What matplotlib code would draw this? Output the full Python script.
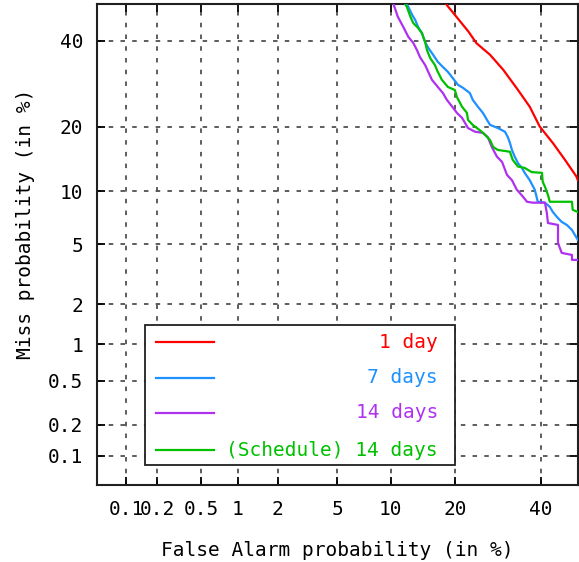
#!/usr/bin/env python3
"""DET curves: miss vs false alarm probability on normal-deviate axes."""

from statistics import NormalDist

import matplotlib
matplotlib.use("Agg")
import matplotlib.pyplot as plt
import numpy as np
from matplotlib.patches import Rectangle


TICKS = [0.1, 0.2, 0.5, 1, 2, 5, 10, 20, 40]
TICK_LABELS = ["0.1", "0.2", "0.5", "1", "2", "5", "10", "20", "40"]
LIMITS = (0.05, 50)

LABELS = ["1 day", "7 days", "14 days", "(Schedule) 14 days"]
COLORS = ["#ff0000", "#1e90ff", "#b030f0", "#00c000"]

# values in percent
DAY1_FA = [18.4, 18.5, 20.3, 22.7, 24.4, 27.4, 30.5, 33.8, 37.1, 39.7, 43.3, 46.5, 49.6, 50.0]
DAY1_MISS = [50.0, 49.7, 46.5, 42.5, 39.4, 36.4, 32.6, 28.2, 24.1, 20.1, 17.0, 14.3, 11.9, 11.4]

DAY7_FA = [12.1, 12.3, 12.85, 13.3, 13.7, 14.3, 14.8, 15.3, 16.1, 16.9, 17.8, 18.7, 19.6,
           20.6, 21.6, 23.0, 23.6, 24.7, 25.8, 26.7, 27.4, 29.2, 30.9, 31.6, 32.1, 32.6,
           33.3, 34.1, 35.1, 35.8, 37.1, 38.4, 39.2, 41.1, 42.4, 43.2, 44.3, 45.6, 47.0,
           48.4, 49.2, 50.0]
DAY7_MISS = [50.0, 49.2, 47.0, 45.6, 43.8, 42.1, 39.7, 38.2, 36.4, 34.6, 33.3, 32.1, 30.6,
             29.0, 28.3, 27.1, 25.6, 24.1, 22.8, 21.4, 20.4, 19.8, 19.1, 18.1, 17.1, 15.9,
             14.8, 13.8, 13.1, 12.4, 11.4, 10.2, 8.8, 8.7, 8.25, 7.74, 7.26, 6.8, 6.53,
             6.1, 5.7, 5.33]

DAY14_FA = [10.35, 10.9, 11.6, 12.3, 13.0, 13.55, 14.0, 14.8, 15.3, 15.9, 16.9, 17.8, 18.5,
            19.5, 20.4, 21.4, 22.0, 22.6, 24.1, 25.8, 26.9, 27.8, 29.0, 30.2, 31.4, 32.6,
            33.8, 35.4, 36.4, 37.9, 41.1, 41.6, 41.9, 44.6, 44.6, 45.6, 48.4, 48.4, 50.0]
DAY14_MISS = [50.0, 46.5, 43.8, 41.1, 39.5, 37.6, 35.8, 33.8, 32.1, 30.2, 28.5, 27.1, 25.6,
              24.1, 22.8, 21.8, 20.8, 19.8, 19.1, 18.9, 18.1, 16.4, 14.8, 14.0, 12.1, 11.4,
              10.2, 9.35, 8.8, 8.7, 8.7, 7.64, 6.7, 6.53, 5.1, 4.43, 4.3, 4.0, 4.0]

SCHED14_FA = [11.86, 12.1, 12.6, 13.0, 13.7, 14.3, 14.8, 15.1, 15.6, 16.4, 16.9, 17.6, 18.7,
              20.0, 20.4, 21.4, 22.4, 22.6, 23.6, 25.1, 25.8, 27.4, 28.1, 29.2, 32.1, 32.8,
              34.1, 35.8, 37.6, 40.3, 40.5, 41.1, 41.9, 42.4, 48.4, 48.6, 50.0]
SCHED14_MISS = [50.0, 49.2, 46.5, 44.8, 43.5, 42.1, 39.7, 37.6, 35.6, 33.8, 32.1, 30.2, 28.5,
                27.8, 26.2, 24.1, 22.8, 21.4, 20.4, 19.4, 18.9, 17.6, 16.4, 15.9, 15.6, 14.3,
                13.3, 13.1, 12.5, 12.4, 11.2, 10.55, 9.57, 8.8, 8.8, 7.95, 7.74]

SERIES = [
    (DAY1_FA, DAY1_MISS),
    (DAY7_FA, DAY7_MISS),
    (DAY14_FA, DAY14_MISS),
    (SCHED14_FA, SCHED14_MISS),
]

_ND = NormalDist()
_ppf = np.vectorize(_ND.inv_cdf, otypes=[float])
_cdf = np.vectorize(_ND.cdf, otypes=[float])


def to_dev(p):
    p = np.clip(np.asarray(p, dtype=float) / 100.0, 1e-9, 1 - 1e-9)
    return _ppf(p)


def from_dev(z):
    return _cdf(np.asarray(z, dtype=float)) * 100.0


def main() -> None:
    fs = 14
    plt.rcParams.update({"font.family": "DejaVu Sans Mono", "font.size": fs})

    fig = plt.figure(figsize=(5.79, 5.62), dpi=100)
    ax = fig.add_axes([0.1675, 0.137, 0.8305, 0.856])

    ax.set_xscale("function", functions=(to_dev, from_dev))
    ax.set_yscale("function", functions=(to_dev, from_dev))

    for (fa, miss), color in zip(SERIES, COLORS):
        ax.plot(fa, miss, color=color, lw=1.6, zorder=3)

    ax.set_xlim(*LIMITS)
    ax.set_ylim(*LIMITS)
    ax.set_xticks(TICKS, labels=TICK_LABELS)
    ax.set_yticks(TICKS, labels=TICK_LABELS)
    ax.minorticks_off()

    ax.grid(True, color="#505050", linestyle=(0, (2.5, 4)), linewidth=1.3, zorder=1)
    ax.tick_params(direction="in", length=6, width=1.3, top=True, right=True, labelsize=fs)
    ax.tick_params(axis="x", pad=11)
    ax.tick_params(axis="y", pad=10)
    for spine in ax.spines.values():
        spine.set_linewidth(1.5)
        spine.set_color("#202020")

    ax.set_xlabel("False Alarm probability (in %)", fontsize=fs)
    ax.set_ylabel("Miss probability (in %)", fontsize=fs)
    ax.xaxis.set_label_coords(0.5, -0.137)
    ax.xaxis.label.set_va("center")
    ax.yaxis.set_label_coords(-0.148, 0.543)
    ax.yaxis.label.set_va("center")

    # gnuplot-style key: sample line on the left, label right-aligned
    ax.add_patch(Rectangle((0.100, 0.042), 0.644, 0.291, transform=ax.transAxes,
                           facecolor="white", edgecolor="#202020", lw=1.3, zorder=5))
    rows = [0.297, 0.2225, 0.1497, 0.0727]
    for label, color, yy in zip(LABELS, COLORS, rows):
        ax.plot([0.123, 0.243], [yy, yy], transform=ax.transAxes, color=color, lw=1.6, zorder=6)
        ax.text(0.709, yy, label, transform=ax.transAxes, ha="right", va="center",
                color=color, fontsize=fs, zorder=6)

    fig.savefig("out.png", dpi=100)
    plt.close(fig)


if __name__ == "__main__":
    main()
